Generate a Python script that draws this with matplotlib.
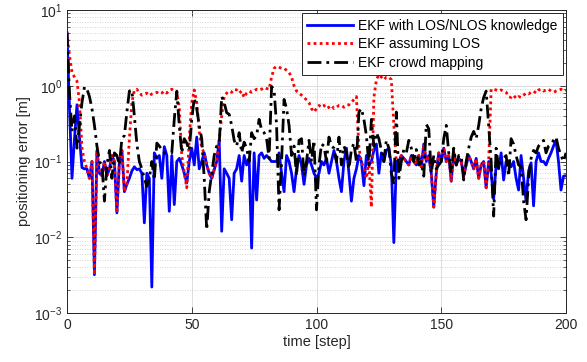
import numpy as np
import matplotlib
matplotlib.use("Agg")
import matplotlib.pyplot as plt
from matplotlib.ticker import LogLocator, NullFormatter

plt.rcParams['font.family'] = ['Liberation Sans', 'DejaVu Sans']

time = np.arange(0, 201)

ekf_known = [
    5.0, 0.5, 0.06, 0.2, 0.56, 0.21, 0.083, 0.08, 0.08, 0.06,
    0.1, 0.0032, 0.14, 0.07, 0.065, 0.1, 0.065, 0.08, 0.12, 0.1,
    0.021, 0.1, 0.14, 0.04, 0.05, 0.06, 0.075, 0.085, 0.078, 0.08,
    0.07, 0.0155, 0.07, 0.06, 0.0022, 0.13, 0.11, 0.12, 0.06, 0.157,
    0.12, 0.022, 0.12, 0.027, 0.1, 0.11, 0.09, 0.07, 0.052, 0.1,
    0.15, 0.09, 0.21, 0.08, 0.1, 0.13, 0.09, 0.07, 0.06, 0.078,
    0.1, 0.19, 0.012, 0.08, 0.07, 0.06, 0.017, 0.07, 0.08, 0.12,
    0.055, 0.12, 0.09, 0.11, 0.0072, 0.13, 0.031, 0.12, 0.13, 0.11,
    0.12, 0.11, 0.1, 0.1, 0.1, 0.13, 0.07, 0.04, 0.12, 0.1,
    0.07, 0.04, 0.08, 0.12, 0.09, 0.05, 0.09, 0.11, 0.09, 0.07,
    0.06, 0.07, 0.1, 0.09, 0.11, 0.07, 0.1, 0.14, 0.1, 0.06,
    0.04, 0.1, 0.15, 0.07, 0.03, 0.06, 0.08, 0.12, 0.1, 0.048,
    0.12, 0.09, 0.1, 0.14, 0.17, 0.07, 0.13, 0.1, 0.14, 0.15,
    0.09, 0.0085, 0.1, 0.1, 0.12, 0.11, 0.1, 0.09, 0.12, 0.1,
    0.09, 0.12, 0.085, 0.17, 0.1, 0.12, 0.07, 0.025, 0.07, 0.13,
    0.1, 0.15, 0.1, 0.12, 0.055, 0.13, 0.09, 0.11, 0.1, 0.065,
    0.09, 0.12, 0.1, 0.08, 0.11, 0.06, 0.09, 0.1, 0.045, 0.1,
    0.07, 0.032, 0.09, 0.08, 0.13, 0.057, 0.1, 0.1, 0.085, 0.1,
    0.06, 0.042, 0.12, 0.06, 0.03, 0.075, 0.096, 0.026, 0.1, 0.13,
    0.1, 0.1, 0.09, 0.11, 0.13, 0.16, 0.19, 0.1, 0.042, 0.064,
    0.065,
]

# EKF assuming LOS: identical to the known case except in NLOS stretches
los_start_0 = 0
los_seg_0 = [5.0, 2.5, 1.5, 1.3, 1.15, 0.6, 0.15, 0.1]
los_start_1 = 25
los_seg_1 = [0.2, 0.6, 0.88, 0.9, 0.8, 0.75, 0.78, 0.8, 0.74, 0.78,
             0.8, 0.82, 0.78, 0.8, 0.85, 0.8, 0.87, 0.9, 0.85, 0.85,
             0.5, 0.12, 0.07, 0.045, 0.2, 0.6, 0.88, 0.6, 0.25, 0.15]
los_start_2 = 62
los_seg_2 = [0.4, 0.72, 0.8, 0.85, 0.82, 0.9, 0.88, 0.8, 0.85, 0.7,
             0.8, 0.85, 0.82, 0.85, 0.9, 0.88, 0.9, 0.95, 0.92, 0.9,
             1.3, 1.7, 1.8, 1.75, 1.7, 1.7, 1.6, 1.5, 1.3, 1.0,
             0.85, 0.8, 0.75, 0.7, 0.65, 0.6, 0.5, 0.45, 0.5, 0.55,
             0.52, 0.55, 0.5, 0.52, 0.55, 0.5, 0.52, 0.55, 0.55, 0.52,
             0.55, 0.56, 0.6, 0.66, 0.72, 0.15, 0.1, 0.08, 0.06, 0.1,
             0.025, 0.7, 1.2, 1.4, 1.3, 1.2, 1.3, 1.3, 1.2, 0.3, 0.1]
los_start_3 = 170
los_seg_3 = [0.9, 0.9, 0.88, 0.85, 0.88, 0.85, 0.82, 0.72, 0.7, 0.75,
             0.68, 0.72, 0.7, 0.75, 0.8, 0.78, 0.82, 0.85, 0.8, 0.88,
             0.9, 0.85, 0.88, 0.9, 0.85, 0.82, 0.85, 0.88, 0.9, 0.85, 0.88]

ekf_crowd = [
    5.0, 0.8, 0.25, 0.4, 0.15, 0.3, 0.6, 0.97, 0.9, 0.72,
    0.5, 0.3, 0.16, 0.1, 0.09, 0.03, 0.09, 0.14, 0.06, 0.13,
    0.12, 0.09, 0.2, 0.22, 0.45, 0.85, 0.88, 0.4, 0.17, 0.1,
    0.08, 0.06, 0.047, 0.06, 0.1, 0.057, 0.175, 0.16, 0.144, 0.13,
    0.13, 0.13, 0.13, 0.36, 0.84, 0.3, 0.13, 0.2, 0.175, 0.14,
    0.36, 0.69, 0.5, 0.3, 0.2, 0.06, 0.0125, 0.04, 0.07, 0.12,
    0.16, 0.17, 0.72, 0.6, 0.44, 0.42, 0.3, 0.19, 0.16, 0.24,
    0.13, 0.18, 0.15, 0.1, 0.24, 0.2, 0.22, 0.36, 0.26, 0.24,
    0.2, 0.11, 0.98, 0.88, 0.3, 0.023, 0.1, 0.66, 0.5, 0.3,
    0.12, 0.16, 0.065, 0.19, 0.2, 0.065, 0.1, 0.19, 0.1, 0.19,
    0.023, 0.09, 0.17, 0.16, 0.1, 0.21, 0.16, 0.15, 0.1, 0.21,
    0.09, 0.16, 0.13, 0.08, 0.144, 0.175, 0.1, 0.45, 0.5, 0.36,
    0.22, 0.09, 0.36, 0.16, 0.24, 0.2, 0.14, 0.1, 0.19, 0.15,
    0.07, 0.05, 0.45, 0.06, 0.1, 0.144, 0.13, 0.19, 0.15, 0.1,
    0.144, 0.09, 0.1, 0.064, 0.31, 0.27, 0.07, 0.12, 0.08, 0.09,
    0.1, 0.2, 0.3, 0.13, 0.07, 0.15, 0.09, 0.12, 0.12, 0.057,
    0.1, 0.15, 0.21, 0.25, 0.2, 0.3, 0.5, 0.7, 0.85, 0.3,
    0.1, 0.019, 0.15, 0.08, 0.1, 0.11, 0.12, 0.064, 0.2, 0.17,
    0.12, 0.09, 0.086, 0.03, 0.017, 0.06, 0.11, 0.14, 0.13, 0.16,
    0.175, 0.19, 0.13, 0.16, 0.17, 0.19, 0.21, 0.15, 0.12, 0.1,
    0.13,
]

ekf_los = list(ekf_known)
for s, seg in [(los_start_0, los_seg_0), (los_start_1, los_seg_1),
               (los_start_2, los_seg_2), (los_start_3, los_seg_3)]:
    ekf_los[s:s + len(seg)] = seg

legend_labels = ['EKF with LOS/NLOS knowledge', 'EKF assuming LOS', 'EKF crowd mapping']

fig = plt.figure(figsize=(5.87, 3.62), dpi=100)
ax = fig.add_axes([67/587, 1 - 313/362, (566-67)/587, (313-10)/362])

ax.plot(time, ekf_known, color='#0000ff', lw=2.0, linestyle='-', label=legend_labels[0], zorder=3)
ax.plot(time, ekf_los, color='#ff0000', lw=2.0, linestyle=(0, (1, 1.2)), label=legend_labels[1], zorder=4)
ax.plot(time, ekf_crowd, color='black', lw=2.0, linestyle=(0, (5, 1.8, 1, 1.8)), label=legend_labels[2], zorder=5)

ax.set_yscale('log')
ax.set_ylim(1e-3, 1e1)
ax.set_xlim(0, 200)
ax.set_xticks([0, 50, 100, 150, 200])
ax.yaxis.set_major_locator(LogLocator(base=10, numticks=10))
ax.yaxis.set_minor_locator(LogLocator(base=10, subs=np.arange(2, 10), numticks=100))
ax.yaxis.set_minor_formatter(NullFormatter())

ax.grid(True, which='major', color='#d9d9d9', lw=0.6, linestyle='-', zorder=0)
ax.grid(True, which='minor', axis='y', color='#c8c8c8', lw=0.6, linestyle=(0, (1, 2)), zorder=0)
ax.set_axisbelow(True)

ax.tick_params(which='both', direction='in', top=True, right=True, labelsize=10, colors='#262626')
ax.tick_params(which='major', length=4, width=0.6)
ax.tick_params(which='minor', length=2.2, width=0.5)
for sp in ax.spines.values():
    sp.set_color('#262626')
    sp.set_linewidth(0.7)

ax.set_xlabel('time [step]', fontsize=10.5, color='#262626', labelpad=2)
ax.set_ylabel('positioning error [m]', fontsize=10.5, color='#262626', labelpad=2)

leg = ax.legend(loc='upper right', fontsize=10, fancybox=False, framealpha=1,
                edgecolor='#262626', borderaxespad=0.22, handlelength=3.3,
                labelspacing=0.33, borderpad=0.4, handletextpad=0.35)
leg.get_frame().set_linewidth(0.7)

fig.savefig('out.png', dpi=100)
